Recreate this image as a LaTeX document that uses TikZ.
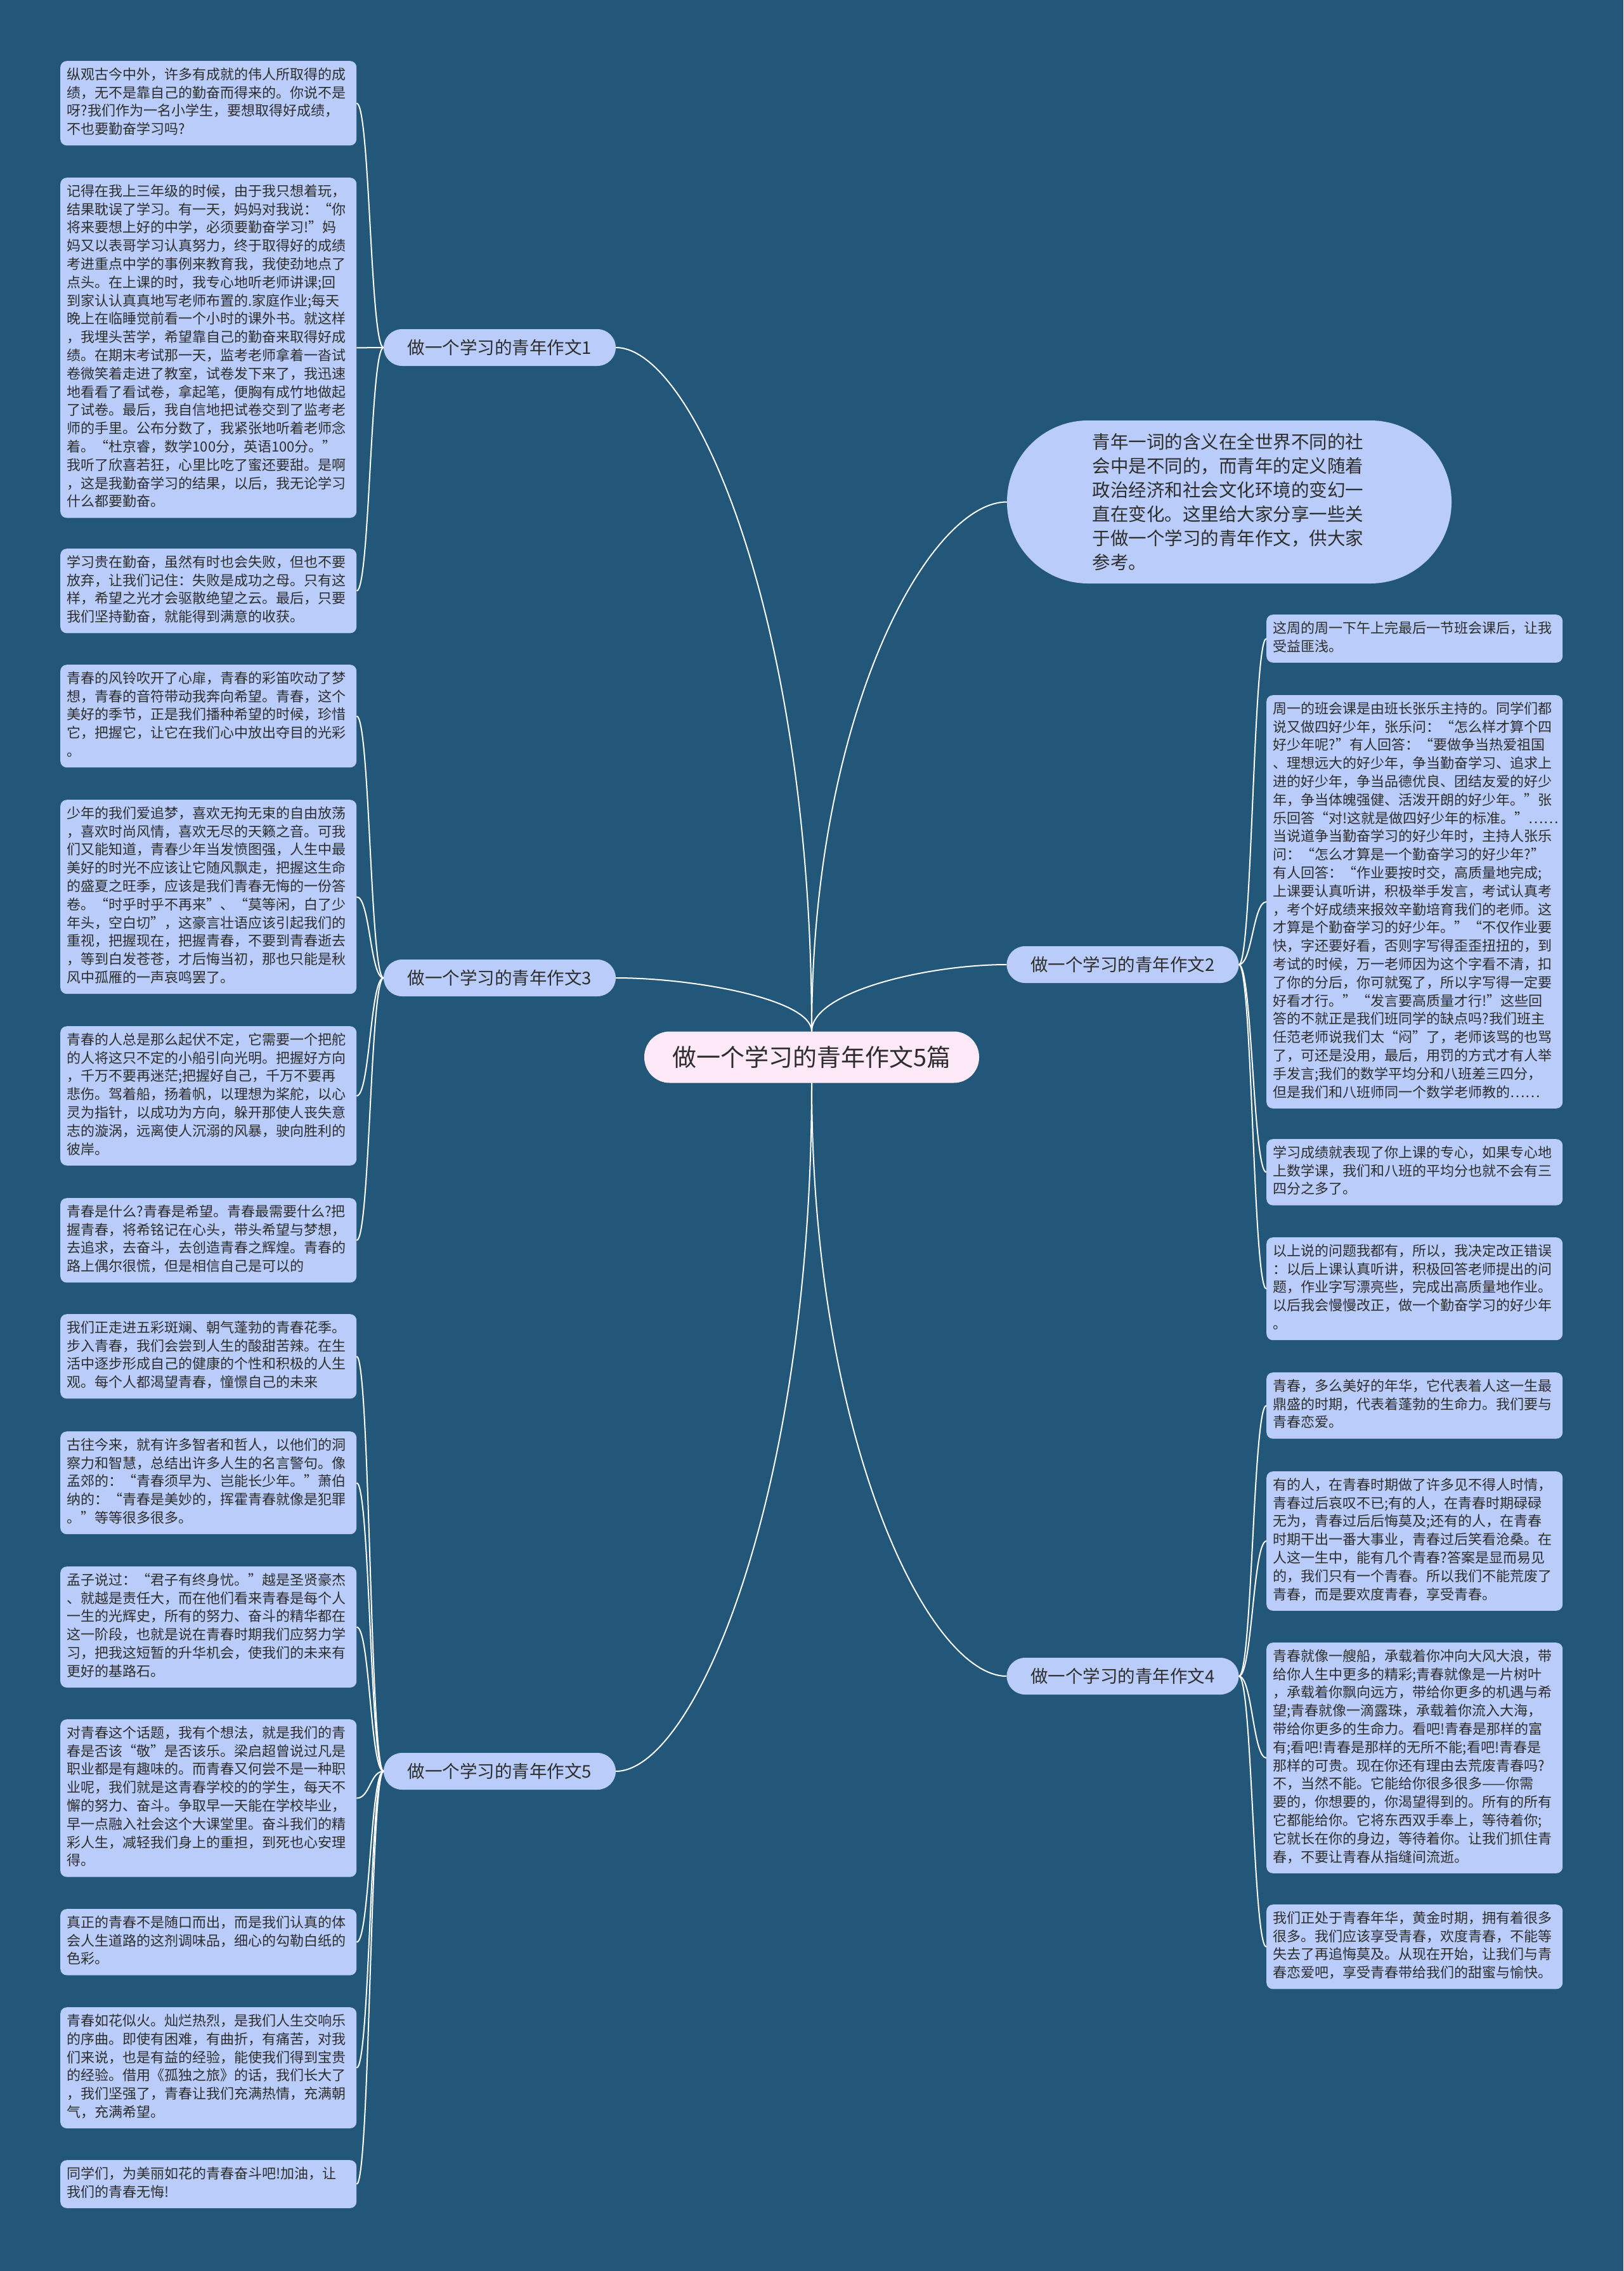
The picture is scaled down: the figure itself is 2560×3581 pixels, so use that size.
\documentclass[tikz,border=0pt]{standalone}
\usepackage{fontspec}
\newfontfamily\cjk{Noto Sans CJK SC}
\usetikzlibrary{calc}
\definecolor{bg}{RGB}{35,87,121}
\definecolor{leafblue}{RGB}{186,205,250}
\definecolor{centerpink}{RGB}{253,233,247}
\definecolor{txt}{RGB}{45,45,45}
\begin{document}
\begin{tikzpicture}[x=1pt,y=-1pt,
  leaf/.style={fill=leafblue, rounded corners=10pt, text=txt,
    font=\cjk\fontsize{22}{28.8}\selectfont, text width=446pt,
    inner xsep=10.5pt, inner ysep=9pt, align=left, anchor=north west,
    execute at begin node=\strut, execute at end node=\strut},
  branch/.style={fill=leafblue, rounded corners=29pt, text=txt,
    minimum width=366pt, minimum height=58pt, inner sep=0pt,
    font=\cjk\fontsize{27.5}{32}\selectfont},
  centernode/.style={fill=centerpink, rounded corners=40pt, text=txt,
    minimum width=528pt, minimum height=81pt, inner sep=0pt,
    font=\cjk\fontsize{38}{44}\selectfont},
  intronode/.style={fill=leafblue, rounded corners=128pt, text=txt,
    minimum width=701pt, minimum height=257pt, inner sep=0pt,
    text width=432pt, align=left,
    font=\cjk\fontsize{28.5}{38}\selectfont},
  link/.style={draw=white, line width=2pt}
]
\useasboundingbox (0,0) rectangle (2560,3581);
\fill[bg] (0,0) rectangle (2560,3581);

% centre and branches
\node[centernode] (c) at (1280,1667) {做一个学习的青年作文5篇};
\node[branch] (b1) at (788,548) {做一个学习的青年作文1};
\node[branch] (b3) at (788,1542) {做一个学习的青年作文3};
\node[branch] (b5) at (788,2793) {做一个学习的青年作文5};
\node[branch] (b2) at (1770.5,1521) {做一个学习的青年作文2};
\node[branch] (b4) at (1770.5,2643) {做一个学习的青年作文4};
\node[intronode] (intro) at (1938.5,791.5) {青年一词的含义在全世界不同的社\\会中是不同的，而青年的定义随着\\政治经济和社会文化环境的变幻一\\直在变化。这里给大家分享一些关\\于做一个学习的青年作文，供大家\\参考。};

% left leaves
\node[leaf] (l1a) at (95,96) {纵观古今中外，许多有成就的伟人所取得的成\\绩，无不是靠自己的勤奋而得来的。你说不是\\呀?我们作为一名小学生，要想取得好成绩，\\不也要勤奋学习吗?};
\node[leaf] (l1b) at (95,280) {记得在我上三年级的时候，由于我只想着玩，\\结果耽误了学习。有一天，妈妈对我说：“你\\将来要想上好的中学，必须要勤奋学习!”妈\\妈又以表哥学习认真努力，终于取得好的成绩\\考进重点中学的事例来教育我，我使劲地点了\\点头。在上课的时，我专心地听老师讲课;回\\到家认认真真地写老师布置的.家庭作业;每天\\晚上在临睡觉前看一个小时的课外书。就这样\\，我埋头苦学，希望靠自己的勤奋来取得好成\\绩。在期末考试那一天，监考老师拿着一沓试\\卷微笑着走进了教室，试卷发下来了，我迅速\\地看看了看试卷，拿起笔，便胸有成竹地做起\\了试卷。最后，我自信地把试卷交到了监考老\\师的手里。公布分数了，我紧张地听着老师念\\着。“杜京睿，数学100分，英语100分。”\\我听了欣喜若狂，心里比吃了蜜还要甜。是啊\\，这是我勤奋学习的结果，以后，我无论学习\\什么都要勤奋。};
\node[leaf] (l1c) at (95,865) {学习贵在勤奋，虽然有时也会失败，但也不要\\放弃，让我们记住：失败是成功之母。只有这\\样，希望之光才会驱散绝望之云。最后，只要\\我们坚持勤奋，就能得到满意的收获。};

\node[leaf] (l3a) at (95,1048) {青春的风铃吹开了心扉，青春的彩笛吹动了梦\\想，青春的音符带动我奔向希望。青春，这个\\美好的季节，正是我们播种希望的时候，珍惜\\它，把握它，让它在我们心中放出夺目的光彩\\。};
\node[leaf] (l3b) at (95,1261) {少年的我们爱追梦，喜欢无拘无束的自由放荡\\，喜欢时尚风情，喜欢无尽的天籁之音。可我\\们又能知道，青春少年当发愤图强，人生中最\\美好的时光不应该让它随风飘走，把握这生命\\的盛夏之旺季，应该是我们青春无悔的一份答\\卷。“时乎时乎不再来”、“莫等闲，白了少\\年头，空白切”，这豪言壮语应该引起我们的\\重视，把握现在，把握青春，不要到青春逝去\\，等到白发苍苍，才后悔当初，那也只能是秋\\风中孤雁的一声哀鸣罢了。};
\node[leaf] (l3c) at (95,1618) {青春的人总是那么起伏不定，它需要一个把舵\\的人将这只不定的小船引向光明。把握好方向\\，千万不要再迷茫;把握好自己，千万不要再\\悲伤。驾着船，扬着帆，以理想为桨舵，以心\\灵为指针，以成功为方向，躲开那使人丧失意\\志的漩涡，远离使人沉溺的风暴，驶向胜利的\\彼岸。};
\node[leaf] (l3d) at (95,1889) {青春是什么?青春是希望。青春最需要什么?把\\握青春，将希铭记在心头，带头希望与梦想，\\去追求，去奋斗，去创造青春之辉煌。青春的\\路上偶尔很慌，但是相信自己是可以的};

\node[leaf] (l5a) at (95,2072) {我们正走进五彩斑斓、朝气蓬勃的青春花季。\\步入青春，我们会尝到人生的酸甜苦辣。在生\\活中逐步形成自己的健康的个性和积极的人生\\观。每个人都渴望青春，憧憬自己的未来};
\node[leaf] (l5b) at (95,2257) {古往今来，就有许多智者和哲人，以他们的洞\\察力和智慧，总结出许多人生的名言警句。像\\孟郊的：“青春须早为、岂能长少年。”萧伯\\纳的：“青春是美妙的，挥霍青春就像是犯罪\\。”等等很多很多。};
\node[leaf] (l5c) at (95,2470) {孟子说过：“君子有终身忧。”越是圣贤豪杰\\、就越是责任大，而在他们看来青春是每个人\\一生的光辉史，所有的努力、奋斗的精华都在\\这一阶段，也就是说在青春时期我们应努力学\\习，把我这短暂的升华机会，使我们的未来有\\更好的基路石。};
\node[leaf] (l5d) at (95,2711) {对青春这个话题，我有个想法，就是我们的青\\春是否该“敬”是否该乐。梁启超曾说过凡是\\职业都是有趣味的。而青春又何尝不是一种职\\业呢，我们就是这青春学校的的学生，每天不\\懈的努力、奋斗。争取早一天能在学校毕业，\\早一点融入社会这个大课堂里。奋斗我们的精\\彩人生，减轻我们身上的重担，到死也心安理\\得。};
\node[leaf] (l5e) at (95,3010) {真正的青春不是随口而出，而是我们认真的体\\会人生道路的这剂调味品，细心的勾勒白纸的\\色彩。};
\node[leaf] (l5f) at (95,3165) {青春如花似火。灿烂热烈，是我们人生交响乐\\的序曲。即使有困难，有曲折，有痛苦，对我\\们来说，也是有益的经验，能使我们得到宝贵\\的经验。借用《孤独之旅》的话，我们长大了\\，我们坚强了，青春让我们充满热情，充满朝\\气，充满希望。};
\node[leaf] (l5g) at (95,3406) {同学们，为美丽如花的青春奋斗吧!加油，让\\我们的青春无悔!};

% right leaves
\node[leaf] (r2a) at (1997,969) {这周的周一下午上完最后一节班会课后，让我\\受益匪浅。};
\node[leaf] (r2b) at (1997,1096) {周一的班会课是由班长张乐主持的。同学们都\\说又做四好少年，张乐问：“怎么样才算个四\\好少年呢?”有人回答：“要做争当热爱祖国\\、理想远大的好少年，争当勤奋学习、追求上\\进的好少年，争当品德优良、团结友爱的好少\\年，争当体魄强健、活泼开朗的好少年。”张\\乐回答“对!这就是做四好少年的标准。”……\\当说道争当勤奋学习的好少年时，主持人张乐\\问：“怎么才算是一个勤奋学习的好少年?”\\有人回答：“作业要按时交，高质量地完成;\\上课要认真听讲，积极举手发言，考试认真考\\，考个好成绩来报效辛勤培育我们的老师。这\\才算是个勤奋学习的好少年。”“不仅作业要\\快，字还要好看，否则字写得歪歪扭扭的，到\\考试的时候，万一老师因为这个字看不清，扣\\了你的分后，你可就冤了，所以字写得一定要\\好看才行。”“发言要高质量才行!”这些回\\答的不就正是我们班同学的缺点吗?我们班主\\任范老师说我们太“闷”了，老师该骂的也骂\\了，可还是没用，最后，用罚的方式才有人举\\手发言;我们的数学平均分和八班差三四分，\\但是我们和八班师同一个数学老师教的……};
\node[leaf] (r2c) at (1997,1796) {学习成绩就表现了你上课的专心，如果专心地\\上数学课，我们和八班的平均分也就不会有三\\四分之多了。};
\node[leaf] (r2d) at (1997,1951) {以上说的问题我都有，所以，我决定改正错误\\：以后上课认真听讲，积极回答老师提出的问\\题，作业字写漂亮些，完成出高质量地作业。\\以后我会慢慢改正，做一个勤奋学习的好少年\\。};

\node[leaf] (r4a) at (1997,2164) {青春，多么美好的年华，它代表着人这一生最\\鼎盛的时期，代表着蓬勃的生命力。我们要与\\青春恋爱。};
\node[leaf] (r4b) at (1997,2320) {有的人，在青春时期做了许多见不得人时情，\\青春过后哀叹不已;有的人，在青春时期碌碌\\无为，青春过后后悔莫及;还有的人，在青春\\时期干出一番大事业，青春过后笑看沧桑。在\\人这一生中，能有几个青春?答案是显而易见\\的，我们只有一个青春。所以我们不能荒废了\\青春，而是要欢度青春，享受青春。};
\node[leaf] (r4c) at (1997,2590) {青春就像一艘船，承载着你冲向大风大浪，带\\给你人生中更多的精彩;青春就像是一片树叶\\，承载着你飘向远方，带给你更多的机遇与希\\望;青春就像一滴露珠，承载着你流入大海，\\带给你更多的生命力。看吧!青春是那样的富\\有;看吧!青春是那样的无所不能;看吧!青春是\\那样的可贵。现在你还有理由去荒废青春吗?\\不，当然不能。它能给你很多很多——你需\\要的，你想要的，你渴望得到的。所有的所有\\它都能给你。它将东西双手奉上，等待着你;\\它就长在你的身边，等待着你。让我们抓住青\\春，不要让青春从指缝间流逝。};
\node[leaf] (r4d) at (1997,3003) {我们正处于青春年华，黄金时期，拥有着很多\\很多。我们应该享受青春，欢度青春，不能等\\失去了再追悔莫及。从现在开始，让我们与青\\春恋爱吧，享受青春带给我们的甜蜜与愉快。};

% centre connectors
\draw[link] (c.north) .. controls ($(c.north)!0.6!(c.north|-b1.east)$) and ($(b1.east)!0.4!(c.north|-b1.east)$) .. (b1.east);
\draw[link] (c.north) .. controls ($(c.north)!0.6!(c.north|-b3.east)$) and ($(b3.east)!0.4!(c.north|-b3.east)$) .. (b3.east);
\draw[link] (c.north) .. controls ($(c.north)!0.6!(c.north|-intro.west)$) and ($(intro.west)!0.4!(c.north|-intro.west)$) .. (intro.west);
\draw[link] (c.north) .. controls ($(c.north)!0.6!(c.north|-b2.west)$) and ($(b2.west)!0.4!(c.north|-b2.west)$) .. (b2.west);
\draw[link] (c.south) .. controls ($(c.south)!0.6!(c.south|-b4.west)$) and ($(b4.west)!0.4!(c.south|-b4.west)$) .. (b4.west);
\draw[link] (c.south) .. controls ($(c.south)!0.6!(c.south|-b5.east)$) and ($(b5.east)!0.4!(c.south|-b5.east)$) .. (b5.east);

% leaf connectors, left
\foreach \b/\l in {b1/l1a,b1/l1b,b1/l1c,b3/l3a,b3/l3b,b3/l3c,b3/l3d,b5/l5a,b5/l5b,b5/l5c,b5/l5d,b5/l5e,b5/l5f,b5/l5g}
  \draw[link] (\b.west) .. controls +(-21,0) and +(21,0) .. (\l.east);
% leaf connectors, right
\foreach \b/\l in {b2/r2a,b2/r2b,b2/r2c,b2/r2d,b4/r4a,b4/r4b,b4/r4c,b4/r4d}
  \draw[link] (\b.east) .. controls +(21,0) and +(-21,0) .. (\l.west);
\end{tikzpicture}
\end{document}
